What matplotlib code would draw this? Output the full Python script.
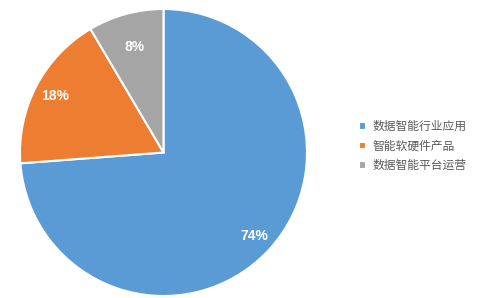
import matplotlib
matplotlib.use("Agg")
import matplotlib.pyplot as plt
import numpy as np

plt.rcParams['font.family'] = ['Noto Sans CJK SC', 'DejaVu Sans']

categories = ["数据智能行业应用", "智能软硬件产品", "数据智能平台运营"]
values = [73.8, 17.7, 8.5]
labels = ["74%", "18%", "8%"]
colors = ["#5B9BD5", "#ED7D31", "#A5A5A5"]
label_dist = [0.86, 0.85, 0.76]

W, H = 496, 298
fig = plt.figure(figsize=(W/100, H/100), dpi=100)
cx, cy, r = 163.5, 152.5, 143.5
ax = fig.add_axes([(cx - r)/W, (H - cy - r)/H, 2*r/W, 2*r/H])
wedges, _ = ax.pie(values, colors=colors, startangle=90, counterclock=False,
                   wedgeprops=dict(edgecolor="white", linewidth=1.5))
for w, lab, d in zip(wedges, labels, label_dist):
    ang = np.deg2rad((w.theta1 + w.theta2) / 2)
    ax.text(d*np.cos(ang), d*np.sin(ang), lab, ha="center", va="center",
            color="white", fontsize=10, fontweight="bold", family=["Liberation Sans", "DejaVu Sans"])
ax.set_xlim(-1, 1)
ax.set_ylim(-1, 1)
ax.set_aspect("equal")
ax.axis("off")

leg = fig.legend(wedges, categories, loc="center left", bbox_to_anchor=(348/W, 1 - 146/H),
                 frameon=False, fontsize=8.5, handlelength=0.6, handleheight=0.6,
                 handletextpad=0.6, labelspacing=0.55, labelcolor="#595959")
fig.savefig("out.png", dpi=100)
